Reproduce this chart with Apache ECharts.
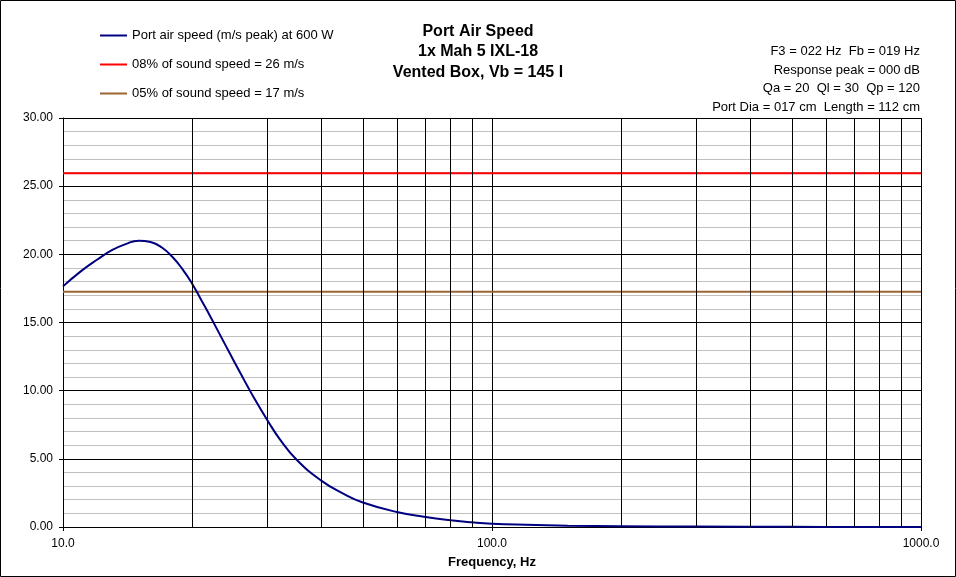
<!DOCTYPE html>
<html>
<head>
<meta charset="utf-8">
<script src="https://cdn.jsdelivr.net/npm/echarts@6/dist/echarts.min.js"></script>
<style>
  html, body { margin: 0; padding: 0; background: #fff; }
  #chart { width: 956px; height: 577px; }
</style>
</head>
<body>
<div id="chart"></div>
<script>
// frequency points (Hz) and port air speed (m/s peak)
var freqHz = [10, 11, 12, 13, 14, 15, 16, 17, 18, 19, 20, 21, 22, 23, 24, 25, 26, 27, 28, 30, 32, 35, 40, 45, 50, 60, 70, 80, 90, 100, 120, 150, 200, 300, 500, 700, 1000];
var portSpeed = [17.65, 18.75, 19.6, 20.3, 20.75, 21.0, 20.9, 20.5, 19.8, 18.9, 17.85, 16.65, 15.5, 14.35, 13.25, 12.2, 11.2, 10.25, 9.37, 7.8, 6.45, 4.95, 3.4, 2.45, 1.8, 1.1, 0.74, 0.5, 0.34, 0.24, 0.16, 0.10, 0.06, 0.03, 0.01, 0.005, 0.003];
var limitRange = [10, 1000];
var limit08 = 25.95;  // 08% of sound speed
var limit05 = 17.25;  // 05% of sound speed
var freqGrid = [20, 30, 40, 50, 60, 70, 80, 90, 200, 300, 400, 500, 600, 700, 800, 900];
var seriesNames = ['Port air speed (m/s peak) at 600 W', '08% of sound speed = 26 m/s', '05% of sound speed = 17 m/s'];
var titleLines = ['Port Air Speed', '1x Mah 5 IXL-18', 'Vented Box, Vb = 145 l'];
var infoLines = ['F3 = 022 Hz  Fb = 019 Hz', 'Response peak = 000 dB', 'Qa = 20  Ql = 30  Qp = 120', 'Port Dia = 017 cm  Length = 112 cm'];

var font = '"Liberation Sans", Arial, sans-serif';
var chart = echarts.init(document.getElementById('chart'));

var curve = freqHz.map(function (f, i) { return [f, portSpeed[i]]; });

var option = {
  backgroundColor: '#fff',
  animation: false,
  title: [{
    text: titleLines.join('\n'),
    left: 'center',
    top: 21,
    padding: 0,
    textStyle: { fontFamily: font, fontSize: 16, fontWeight: 'bold', color: '#000', lineHeight: 20.5 }
  }, {
    text: infoLines.join('\n'),
    left: 920,
    top: 42,
    padding: 0,
    textAlign: 'right',
    textStyle: { fontFamily: font, fontSize: 13, fontWeight: 'normal', color: '#000', lineHeight: 18.7 }
  }],
  legend: {
    data: seriesNames,
    orient: 'vertical',
    left: 100,
    top: 28.5,
    padding: 0,
    itemGap: 15,
    itemWidth: 27,
    itemHeight: 2,
    icon: 'rect',
    textStyle: { fontFamily: font, fontSize: 13, color: '#000', lineHeight: 14 }
  },
  graphic: [{
    type: 'rect',
    shape: { x: 0.5, y: 0.5, width: 955, height: 576 },
    style: { fill: 'none', stroke: '#000', lineWidth: 1 },
    silent: true
  }],
  grid: { left: 63, right: 35, top: 118, bottom: 50 },
  xAxis: {
    type: 'log',
    logBase: 10,
    min: 10,
    max: 1000,
    name: 'Frequency, Hz',
    nameLocation: 'middle',
    nameGap: 29,
    nameTextStyle: { fontFamily: font, fontSize: 13, fontWeight: 'bold', color: '#000' },
    axisLine: { lineStyle: { color: '#000', width: 1 } },
    axisTick: { show: true, length: 4, lineStyle: { color: '#000' } },
    axisLabel: {
      fontFamily: font, fontSize: 12, color: '#000', margin: 11,
      formatter: function (v) { return v.toFixed(1); }
    },
    splitLine: { show: true, lineStyle: { color: '#000', width: 1 } }
  },
  yAxis: {
    type: 'value',
    min: 0,
    max: 30,
    interval: 5,
    axisLine: { show: true, lineStyle: { color: '#000', width: 1 } },
    axisTick: { show: true, length: 4, lineStyle: { color: '#000' } },
    axisLabel: {
      fontFamily: font, fontSize: 12, color: '#000', margin: 10,
      formatter: function (v) { return v.toFixed(2); }
    },
    splitLine: { show: true, lineStyle: { color: '#000', width: 1 } },
    minorTick: { show: false, splitNumber: 5 },
    minorSplitLine: { show: true, lineStyle: { color: '#c0c0c0', width: 1 } }
  },
  series: [{
    name: 'freq-grid',
    type: 'line',
    data: [],
    z: 1,
    silent: true,
    markLine: {
      silent: true,
      symbol: 'none',
      label: { show: false },
      lineStyle: { color: '#000', width: 1, type: 'solid' },
      data: freqGrid.map(function (f) { return { xAxis: f }; })
    }
  }, {
    name: seriesNames[1],
    type: 'line',
    data: limitRange.map(function (f) { return [f, limit08]; }),
    showSymbol: false,
    color: '#ff0000',
    lineStyle: { color: '#ff0000', width: 2 },
    z: 3
  }, {
    name: seriesNames[2],
    type: 'line',
    data: limitRange.map(function (f) { return [f, limit05]; }),
    showSymbol: false,
    color: '#996633',
    lineStyle: { color: '#996633', width: 2 },
    z: 3
  }, {
    name: seriesNames[0],
    type: 'line',
    data: curve,
    smooth: true,
    showSymbol: false,
    color: '#000080',
    lineStyle: { color: '#000080', width: 2 },
    z: 4
  }]
};

chart.setOption(option);
</script>
</body>
</html>
